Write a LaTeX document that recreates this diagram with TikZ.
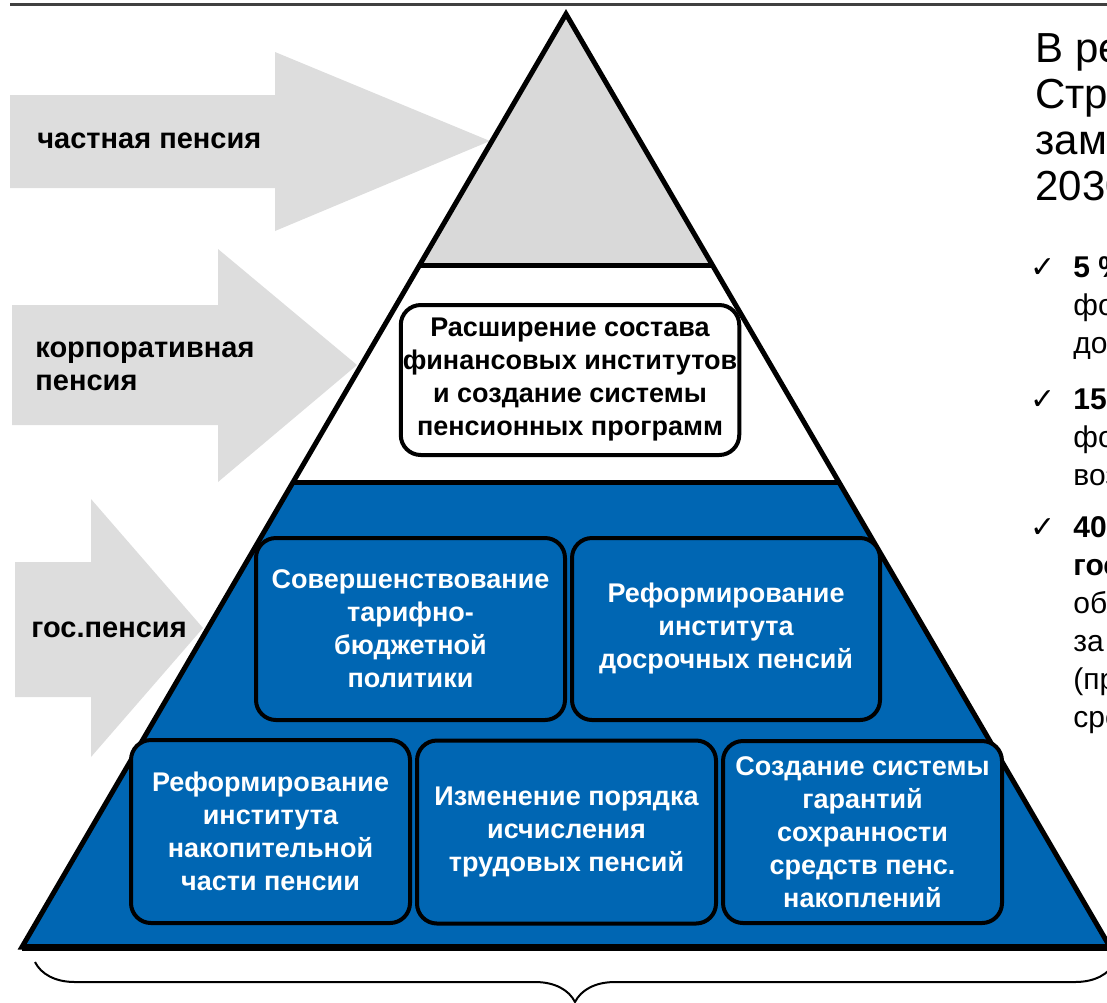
\documentclass[tikz,border=0pt]{standalone}
\usepackage{fontspec}
\setmainfont{Liberation Sans}
\newfontfamily\symfont{DejaVu Sans}
\usetikzlibrary{calc,decorations.pathreplacing}

\definecolor{pblue}{RGB}{0,102,179}
\definecolor{agray}{RGB}{221,221,221}
\definecolor{tgray}{RGB}{217,217,217}

\begin{document}
\begin{tikzpicture}[x=0.5pt, y=-0.5pt,
  arrowshape/.style={fill=agray, draw=none},
  sidelabel/.style={anchor=west, align=left, inner sep=0pt, font=\fontsize{14.5}{16.5}\selectfont\bfseries},
  block/.style={draw=black, line width=2pt, rounded corners=10pt, align=center, inner sep=1pt, font=\fontsize{13.5}{16.5}\selectfont\bfseries},
  bblock/.style={block, fill=pblue, text=white, minimum height=91pt},
  goaltext/.style={anchor=north west, align=left, inner sep=0pt, font=\fontsize{21}{23}\selectfont},
  bullettext/.style={anchor=north west, align=left, inner sep=0pt, font=\fontsize{15}{19}\selectfont},
  tick/.style={inner sep=0pt, font=\symfont\fontsize{15}{15}\selectfont}]

  \useasboundingbox (0,0) rectangle (1107,1002);
  \clip (0,0) rectangle (1107,1002);

  % Top rule
  \draw[line width=1.5pt, black!75] (10,4) -- (1107,4);

  % Side arrows
  \fill[arrowshape] (10,95) -- (275,95) -- (275,52) -- (490,141) -- (275,231) -- (275,188) -- (10,188) -- cycle;
  \fill[arrowshape] (12,305) -- (218,305) -- (218,249) -- (357,365) -- (218,482) -- (218,425) -- (12,425) -- cycle;
  \fill[arrowshape] (15,562) -- (91,562) -- (91,499) -- (203,628) -- (91,757) -- (91,697) -- (15,697) -- cycle;

  % Pyramid
  \coordinate (apex) at (566,14);
  \coordinate (BL) at (22,947);
  \coordinate (BR) at (1110,947);
  \coordinate (L1) at ($(apex)!0.27!(BL)$);
  \coordinate (R1) at ($(apex)!0.27!(BR)$);
  \coordinate (L2) at ($(apex)!0.5016!(BL)$);
  \coordinate (R2) at ($(apex)!0.5016!(BR)$);
  \fill[tgray] (apex) -- (L1) -- (R1) -- cycle;
  \fill[white] (L1) -- (L2) -- (R2) -- (R1) -- cycle;
  \fill[pblue] (L2) -- (BL) -- (BR) -- (R2) -- cycle;
  \draw[line width=2.5pt] (apex) -- (BL) -- (BR) -- cycle;
  \draw[line width=2.5pt] (L1) -- (R1) (L2) -- (R2);
  \draw[line width=3.5pt] (BL) -- (BR);

  % Blocks
  \node[block, fill=white, minimum width=167pt, minimum height=75pt] (wide) at (570,380) {Расширение состава\\финансовых институтов\\и создание системы\\пенсионных программ};
  \node[bblock, minimum width=154.5pt] (tariff) at (410.5,629) {Совершенствование\\тарифно-\\бюджетной\\политики};
  \node[bblock, minimum width=154pt] (early) at (726,629) {Реформирование\\института\\досрочных пенсий};
  \node[bblock, minimum width=139.5pt, minimum height=91.5pt] (funded) at (270.5,831.5) {Реформирование\\института\\накопительной\\части пенсии};
  \node[bblock, minimum width=149.5pt, minimum height=91.5pt] (accrual) at (566.5,832) {Изменение порядка\\исчисления\\трудовых пенсий};
  \node[bblock, minimum width=139.5pt, minimum height=91pt] (guarantee) at (862.5,832) {Создание системы\\гарантий\\сохранности\\средств пенс.\\накоплений};

  % Side labels
  \node[sidelabel] (private) at (37,141) {частная пенсия};
  \node[sidelabel] (corporate) at (35,366) {корпоративная\\пенсия};
  \node[sidelabel] (state) at (31,630) {гос.пенсия};

  % Brace
  \draw[line width=1pt, decorate, decoration={brace, mirror, amplitude=20pt}] (35,962) -- (1115,962);

  % Goals
  \node[goaltext] (aim) at (1035,33) {В рез\\Стра\\заме\\2030};
  \node[tick] (t1) at (1043,268) {✓};
  \node[bullettext] (g1) at (1073,256) {\textbf{5 \%}\\фор\\доб};
  \node[tick] (t2) at (1043,400) {✓};
  \node[bullettext] (g2) at (1073,388) {\textbf{15\%}\\фор\\возр};
  \node[tick] (t3) at (1043,528) {✓};
  \node[bullettext] (g3) at (1073,516) {\textbf{40\%}\\\textbf{госу}\\обяз\\за с\\(при\\сред};

\end{tikzpicture}
\end{document}
